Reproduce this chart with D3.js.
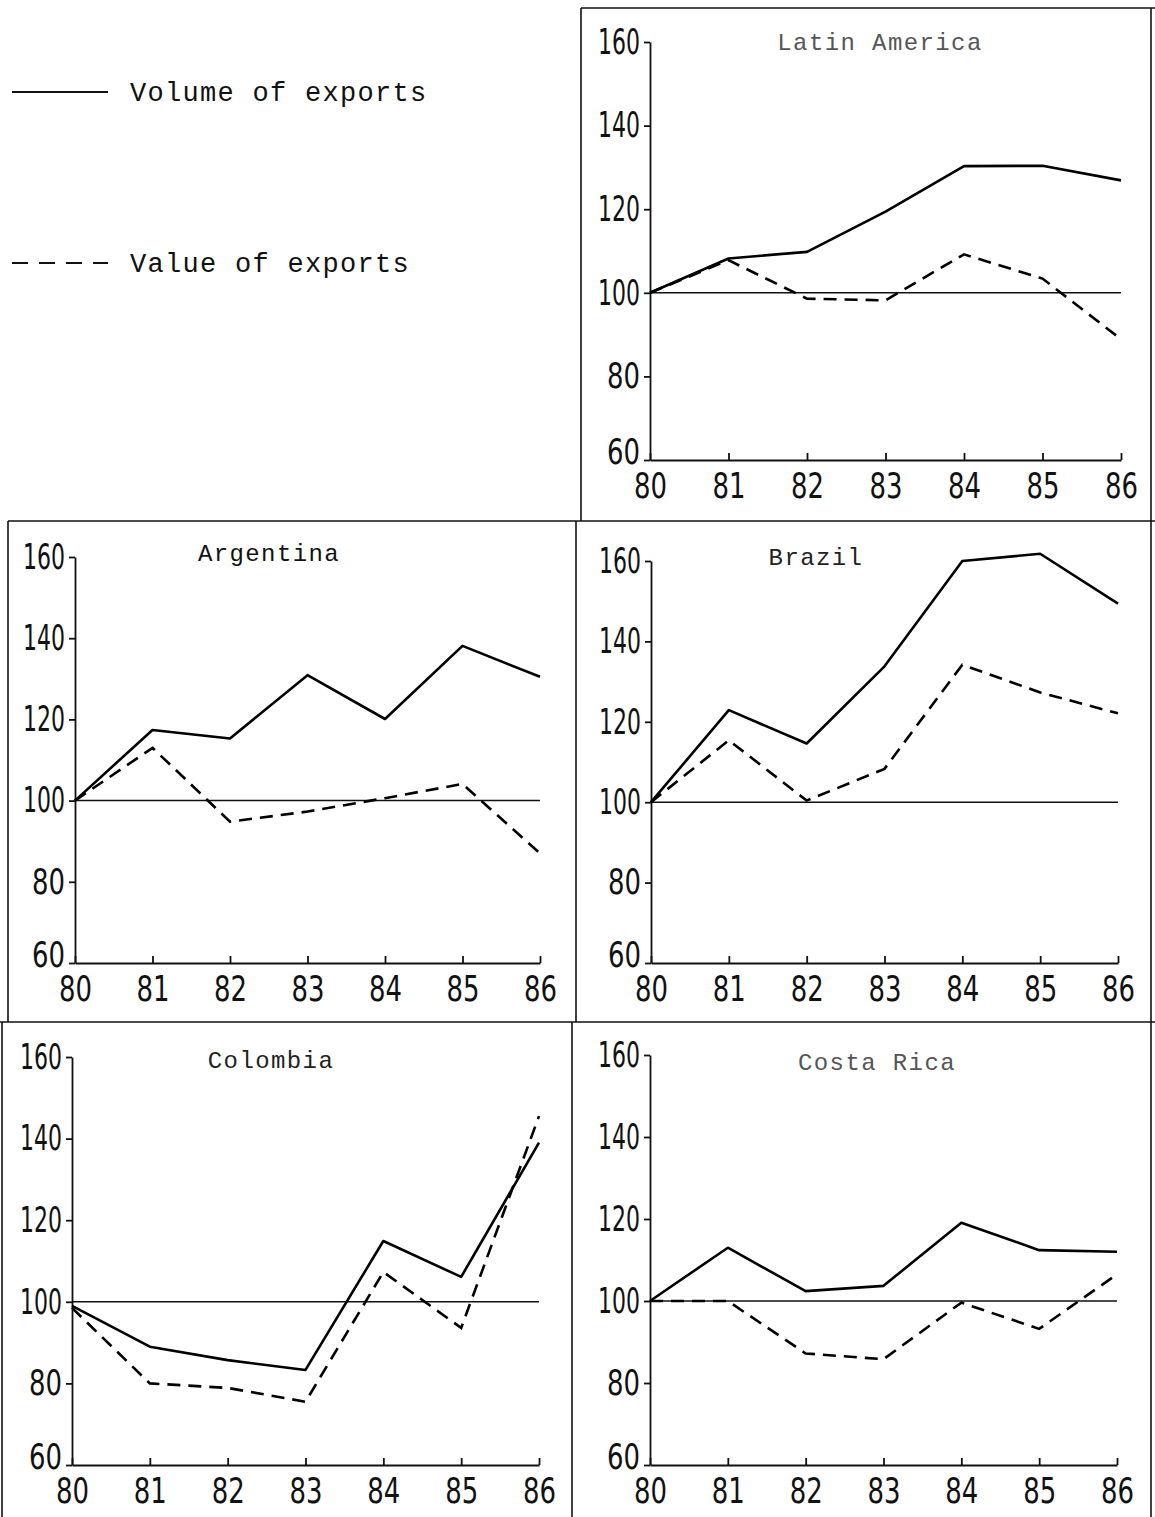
<!DOCTYPE html>
<html>
<head>
<meta charset="utf-8">
<script src="https://cdn.jsdelivr.net/npm/d3@7"></script>
<style>
  html, body { margin: 0; padding: 0; background: #fff; }
  svg { display: block; }
  .tick text { font-family: "DejaVu Sans", "Liberation Sans", sans-serif; }
  .mono { font-family: "Liberation Mono", "DejaVu Sans Mono", monospace; }
</style>
</head>
<body>
<svg id="chart" width="1155" height="1517"></svg>
<script>
// Export indices, 1980 = 100
const years = ["80", "81", "82", "83", "84", "85", "86"];
const yTicks = [60, 80, 100, 120, 140, 160];
const regions = ["Latin America", "Argentina", "Brazil", "Colombia", "Costa Rica"];

const volumeLatinAmerica = [100, 108.2, 109.8, 119.4, 130.3, 130.4, 126.9];
const valueLatinAmerica  = [100, 107.8, 98.6, 98.2, 109.2, 103.4, 88.9];

const volumeArgentina = [100, 117.4, 115.3, 130.9, 120.1, 138.1, 130.5];
const valueArgentina  = [100, 113.0, 94.8, 97.3, 100.6, 104.1, 87.0];

const volumeBrazil = [100, 122.9, 114.6, 133.8, 160.0, 161.8, 149.4];
const valueBrazil  = [100, 115.4, 100.4, 108.3, 134.2, 127.3, 122.1];

const volumeColombia = [99, 89.0, 85.7, 83.3, 114.9, 106.1, 139.0];
const valueColombia  = [98.5, 80.0, 78.9, 75.5, 107.3, 93.6, 145.5];

const volumeCostaRica = [100, 113.0, 102.4, 103.7, 119.1, 112.4, 112.0];
const valueCostaRica  = [100, 100.0, 87.2, 85.8, 99.6, 93.2, 106.5];

const legendLabels = ["Volume of exports", "Value of exports"];

const volumes = [volumeLatinAmerica, volumeArgentina, volumeBrazil, volumeColombia, volumeCostaRica];
const values  = [valueLatinAmerica, valueArgentina, valueBrazil, valueColombia, valueCostaRica];

// Page layout for each panel: plot area and title placement
const panelLayout = [
  { x0: 650, x1: 1121, yTop: 42,   yBot: 460,  titleX: 880, titleY: 50,   titleFill: "#555" },
  { x0: 75,  x1: 540,  yTop: 557,  yBot: 963,  titleX: 269, titleY: 561,  titleFill: "#111" },
  { x0: 651, x1: 1118, yTop: 561,  yBot: 963,  titleX: 816, titleY: 565,  titleFill: "#222" },
  { x0: 72,  x1: 539,  yTop: 1057, yBot: 1465, titleX: 271, titleY: 1068, titleFill: "#222" },
  { x0: 650, x1: 1117, yTop: 1055, yBot: 1465, titleX: 877, titleY: 1070, titleFill: "#555" }
];

const svg = d3.select("#chart");

// Panel frames
const frames = [
  [581, 8, 581, 521], [581, 8, 1155, 8], [1151, 8, 1151, 1517],
  [8, 521, 1155, 521], [8, 521, 8, 1022], [576, 521, 576, 1022],
  [0, 1022, 1155, 1022], [2, 1022, 2, 1517], [572, 1022, 572, 1517]
];
svg.append("g").selectAll("line").data(frames).join("line")
  .attr("x1", d => d[0]).attr("y1", d => d[1])
  .attr("x2", d => d[2]).attr("y2", d => d[3])
  .attr("stroke", "#111").attr("stroke-width", 1.6);

const dashPattern = "13,8";

// condensed plotter-style tick numerals
function condense(sel) {
  sel.selectAll(".tick text")
    .attr("fill", "#111").attr("font-size", 35)
    .attr("lengthAdjust", "spacingAndGlyphs")
    .attr("textLength", function () { return this.textContent.length === 3 ? 42 : 33; });
}

regions.forEach((name, i) => {
  const L = panelLayout[i];
  const x = d3.scalePoint().domain(years).range([L.x0, L.x1]);
  const y = d3.scaleLinear().domain([60, 160]).range([L.yBot, L.yTop]);
  const g = svg.append("g");

  // y axis
  const ya = g.append("g")
    .attr("transform", `translate(${L.x0},0)`)
    .call(d3.axisLeft(y).tickValues(yTicks).tickSize(6).tickSizeOuter(0).tickPadding(4));
  // x axis
  const xa = g.append("g")
    .attr("transform", `translate(0,${L.yBot})`)
    .call(d3.axisBottom(x).tickSize(-7).tickSizeOuter(0).tickPadding(13));

  [ya, xa].forEach(a => {
    a.select(".domain").attr("stroke", "#111").attr("stroke-width", 1.8);
    a.selectAll(".tick line").attr("stroke", "#111").attr("stroke-width", 1.8);
    condense(a);
  });
  // lowest y label sits just above the year labels
  ya.selectAll(".tick").filter(d => d === yTicks[0]).select("text")
    .attr("dy", "0.1em");

  // reference line at 100
  g.append("line")
    .attr("x1", x(years[0])).attr("x2", x(years[years.length - 1]))
    .attr("y1", y(100)).attr("y2", y(100))
    .attr("stroke", "#111").attr("stroke-width", 1.5);

  const line = d3.line().x((d, j) => x(years[j])).y(d => y(d));

  g.append("path").datum(volumes[i])
    .attr("d", line).attr("fill", "none")
    .attr("stroke", "#000").attr("stroke-width", 2.6).attr("stroke-linejoin", "round");

  g.append("path").datum(values[i])
    .attr("d", line).attr("fill", "none")
    .attr("stroke", "#000").attr("stroke-width", 2.6)
    .attr("stroke-dasharray", dashPattern);

  g.append("text").attr("class", "mono")
    .attr("x", L.titleX).attr("y", L.titleY)
    .attr("text-anchor", "middle")
    .attr("font-size", 24).attr("letter-spacing", 1.4)
    .attr("fill", L.titleFill)
    .text(name);
});

// Legend
const legend = svg.append("g");
const legendRows = [
  { y: 92, dash: null },
  { y: 263, dash: "16,11" }
];
legendRows.forEach((r, i) => {
  legend.append("line")
    .attr("x1", 12).attr("x2", 108).attr("y1", r.y).attr("y2", r.y)
    .attr("stroke", "#111").attr("stroke-width", 1.8)
    .attr("stroke-dasharray", r.dash);
  legend.append("text").attr("class", "mono")
    .attr("x", 130).attr("y", r.y + 9)
    .attr("font-size", 27).attr("letter-spacing", 1.3)
    .attr("fill", "#111")
    .text(legendLabels[i]);
});
</script>
</body>
</html>
